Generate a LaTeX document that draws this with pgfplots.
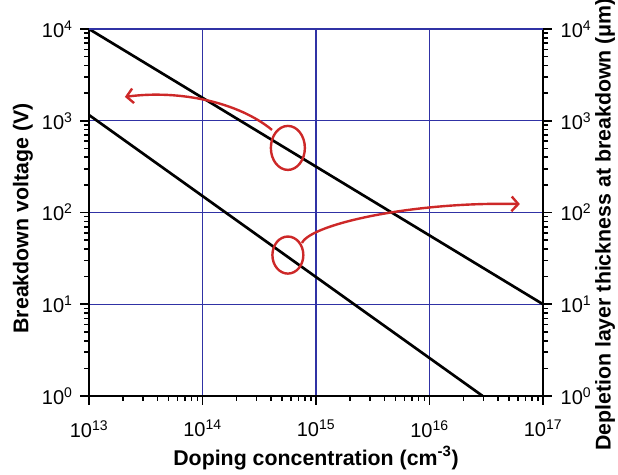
\documentclass[border=0pt]{standalone}
\usepackage{fontspec}
\setmainfont{Liberation Sans}
\usepackage{pgfplots}
\pgfplotsset{compat=1.18}
\usetikzlibrary{arrows.meta}
\definecolor{gridblue}{RGB}{48,50,165}
\definecolor{annred}{RGB}{205,40,40}

\begin{document}
\begin{tikzpicture}
\begin{loglogaxis}[name=main,
  scale only axis, width=340.5pt, height=275.25pt,
  xmin=1e13, xmax=1e17, ymin=1, ymax=1e4,
  xtick pos=left, ytick pos=left,
  tick align=outside,
  major tick length=6.75pt, minor tick length=3.75pt,
  every tick/.append style={black, line width=1pt},
  axis line style={black, line width=1.5pt},
  xtick={1e13,1e14,1e15,1e16,1e17},
  xticklabels={10\textsuperscript{13},10\textsuperscript{14},10\textsuperscript{15},10\textsuperscript{16},10\textsuperscript{17}},
  ytick={1,10,100,1000,10000},
  yticklabels={10\textsuperscript{0},10\textsuperscript{1},10\textsuperscript{2},10\textsuperscript{3},10\textsuperscript{4}},
  tick label style={font=\fontsize{15}{15}\selectfont},
  xticklabel style={yshift=-8pt},
  yticklabel style={xshift=-2pt},
  label style={font=\fontsize{16}{18}\selectfont\bfseries},
  ylabel style={xshift=-4.5pt},
  grid=major, major grid style={gridblue, line width=0.8pt},
  xlabel={Doping concentration (cm\textsuperscript{-3})},
  ylabel={Breakdown voltage (V)},
]
% breakdown voltage and depletion width
\addplot[black, line width=2pt] coordinates {(1e13,1e4) (1e17,1e1)};
\addplot[black, line width=2pt] coordinates {(1e13,1155) (2.94e16,1)};

% hand drawn markers
\draw[annred, line width=1.8pt] (rel axis cs:0.438,0.676) ellipse [x radius=12.75pt, y radius=16.5pt];
\draw[annred, line width=1.8pt, -{Straight Barb[length=5pt,width=11pt]}]
  (rel axis cs:0.403,0.725) .. controls (rel axis cs:0.33,0.80) and (rel axis cs:0.20,0.835) .. (rel axis cs:0.079,0.815);
\draw[annred, line width=1.8pt] (rel axis cs:0.438,0.384) ellipse [x radius=11.6pt, y radius=13.9pt];
\draw[annred, line width=1.8pt, -{Straight Barb[length=5pt,width=11pt]}]
  (rel axis cs:0.469,0.417) .. controls (rel axis cs:0.49,0.47) and (rel axis cs:0.72,0.53) .. (rel axis cs:0.949,0.523);
\end{loglogaxis}
\begin{loglogaxis}[
  scale only axis, width=340.5pt, height=275.25pt,
  xmin=1e13, xmax=1e17, ymin=1, ymax=1e4,
  hide x axis,
  ytick pos=right, yticklabel pos=right,
  tick align=outside,
  major tick length=6.75pt, minor tick length=3.75pt,
  every tick/.append style={black, line width=1pt},
  axis line style={draw=none},
  ytick={1,10,100,1000,10000},
  yticklabels={10\textsuperscript{0},10\textsuperscript{1},10\textsuperscript{2},10\textsuperscript{3},10\textsuperscript{4}},
  tick label style={font=\fontsize{15}{15}\selectfont},
  yticklabel style={xshift=3pt},
  label style={font=\fontsize{16}{18}\selectfont\bfseries},
  ylabel style={xshift=-9pt, yshift=4pt},
  ylabel={Depletion layer thickness at breakdown (μm)},
]
\addplot[draw=none] coordinates {(1e13,1) (1e17,1e4)};
\end{loglogaxis}
% top edge is a grid line, not an axis line
\draw[white, line width=1.7pt] (main.north west) -- (main.north east);
\draw[gridblue, line width=0.8pt] (main.north west) -- (main.north east);
% outward log ticks on bottom, left and right
\begin{scope}[shift={(main.south west)}, line width=1.2pt, black]
  \foreach \d in {0,1,2,3} {
    \foreach \m in {2,...,9} {
      \pgfmathsetmacro\xx{340.5*(\d+log10(\m))/4}
      \pgfmathsetmacro\yy{275.25*(\d+log10(\m))/4}
      \draw (\xx pt,0pt) -- (\xx pt,-3.75pt);
      \draw (0pt,\yy pt) -- (-3.75pt,\yy pt);
      \draw (340.5pt,\yy pt) -- (344.25pt,\yy pt);
    }
  }
  \foreach \d in {0,...,4} {
    \pgfmathsetmacro\xx{340.5*\d/4}
    \pgfmathsetmacro\yy{275.25*\d/4}
    \draw (\xx pt,0pt) -- (\xx pt,-6.75pt);
    \draw (0pt,\yy pt) -- (-6.75pt,\yy pt);
    \draw (340.5pt,\yy pt) -- (347.25pt,\yy pt);
  }
\end{scope}
\pgfresetboundingbox
\path (main.south west) ++(-66.75pt,-59.25pt) rectangle ++(463.5pt,356.25pt);
\end{tikzpicture}
\end{document}
